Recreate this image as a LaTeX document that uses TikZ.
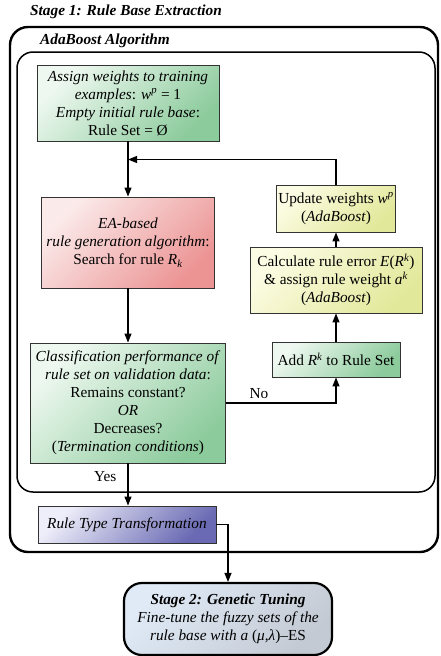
\documentclass[tikz,border=0pt]{standalone}
\usepackage{fontspec}
\setmainfont{Liberation Serif}
\usetikzlibrary{arrows.meta}

\definecolor{edge}{HTML}{333333}
\definecolor{grnA}{HTML}{EEF8F0}
\definecolor{grnB}{HTML}{8CCB9C}
\definecolor{redA}{HTML}{FBEAEA}
\definecolor{redB}{HTML}{EC9494}
\definecolor{ylwA}{HTML}{FCFCE4}
\definecolor{ylwB}{HTML}{E2E89A}
\definecolor{bluA}{HTML}{EEEEFA}
\definecolor{bluB}{HTML}{6A6AB4}
\definecolor{stgA}{HTML}{DFEAF6}
\definecolor{stgB}{HTML}{C4CAD4}

\newcommand{\boxfont}{\fontsize{15.3}{18}\selectfont}

\tikzset{
  x=1pt, y=-1pt,
  every node/.style={font=\boxfont, inner sep=0pt, align=center},
  stepbox/.style={draw=edge, line width=0.9pt, shading=axis},
  greenbox/.style={stepbox, top color=grnA, bottom color=grnB, shading angle=45},
  redbox/.style={stepbox, top color=redA, bottom color=redB, shading angle=45},
  yellowbox/.style={stepbox, top color=ylwA, bottom color=ylwB, shading angle=45},
  bluebox/.style={stepbox, top color=bluA, bottom color=bluB, shading angle=45},
  stagebox/.style={draw=black, line width=2.2pt, rounded corners=18pt, top color=stgA, bottom color=stgB, shading angle=45},
  frame/.style={draw=black, rounded corners=#1},
  flow/.style={draw=black, line width=1.1pt, -{Triangle[width=7pt,length=9pt]}},
  heading/.style={font=\boxfont\bfseries\itshape, anchor=west}
}

\begin{document}
\begin{tikzpicture}
\useasboundingbox (0,0) rectangle (440,656);

% stage frames
\draw[frame=18pt, line width=2.4pt] (10,27) rectangle (438,552);
\draw[frame=16pt, line width=1.5pt] (17,52) rectangle (435,492);
\node[heading] (stageone) at (30,12) {Stage 1: Rule Base Extraction};
\node[heading] (adaboost) at (40,41) {AdaBoost Algorithm};

% main column
\node[greenbox, minimum width=182pt, minimum height=76pt] (init) at (128,103)
  {\textit{Assign weights to training}\\
   \textit{examples}: \textit{w}\textsuperscript{\textit{p}} = 1\\
   \textit{Empty initial rule base}:\\
   Rule Set = Ø};

\node[redbox, minimum width=173pt, minimum height=91pt] (search) at (128,242.5)
  {\textit{EA-based}\\
   \textit{rule generation algorithm}:\\
   Search for rule \textit{R}\textsubscript{\textit{k}}};

\node[greenbox, minimum width=195pt, minimum height=120pt] (perf) at (128,403)
  {\textit{Classification performance of}\\
   \textit{rule set on validation data}:\\
   Remains constant?\\
   \textit{OR}\\
   Decreases?\\
   (\textit{Termination conditions})};

% feedback column
\node[greenbox, minimum width=128pt, minimum height=35pt] (add) at (336,359.5)
  {Add \textit{R}\textsuperscript{\textit{k}} to Rule Set};

\node[yellowbox, minimum width=172pt, minimum height=66pt] (calc) at (336,280)
  {Calculate rule error \textit{E}(\textit{R}\textsuperscript{\textit{k}})\\
   \& assign rule weight \textit{a}\textsuperscript{\textit{k}}\\
   (\textit{AdaBoost})};

\node[yellowbox, minimum width=119pt, minimum height=47pt] (update) at (336,208.5)
  {Update weights \textit{w}\textsuperscript{\textit{p}}\\
   (\textit{AdaBoost})};

% after the loop
\node[bluebox, minimum width=178pt, minimum height=37pt] (transform) at (127,524.5)
  {\textit{Rule Type Transformation}};

\node[stagebox, minimum width=208pt, minimum height=72pt] (tuning) at (228,619)
  {\textbf{\textit{Stage 2: Genetic Tuning}}\\
   \textit{Fine-tune the fuzzy sets of the}\\
   \textit{rule base with a} (\textit{μ},\textit{λ})–ES};

% connectors
\coordinate (merge) at (128,159.5);
\draw[flow] (init.south) -- (search.north);
\draw[flow] (update.north) |- (merge);
\draw[flow] (search.south) -- (perf.north);
\draw[flow] (perf.east |- 0,403) -| node[pos=0.15, above=4pt] (nolabel) {No} (add.south);
\draw[flow] (add.north) -- (calc.south);
\draw[flow] (calc.north) -- (update.south);
\draw[flow] (perf.south) -- node[pos=0.3, left=11pt] (yeslabel) {Yes} (perf.south |- transform.north);
\draw[flow] (transform.east) -| (tuning.north);
\end{tikzpicture}
\end{document}
